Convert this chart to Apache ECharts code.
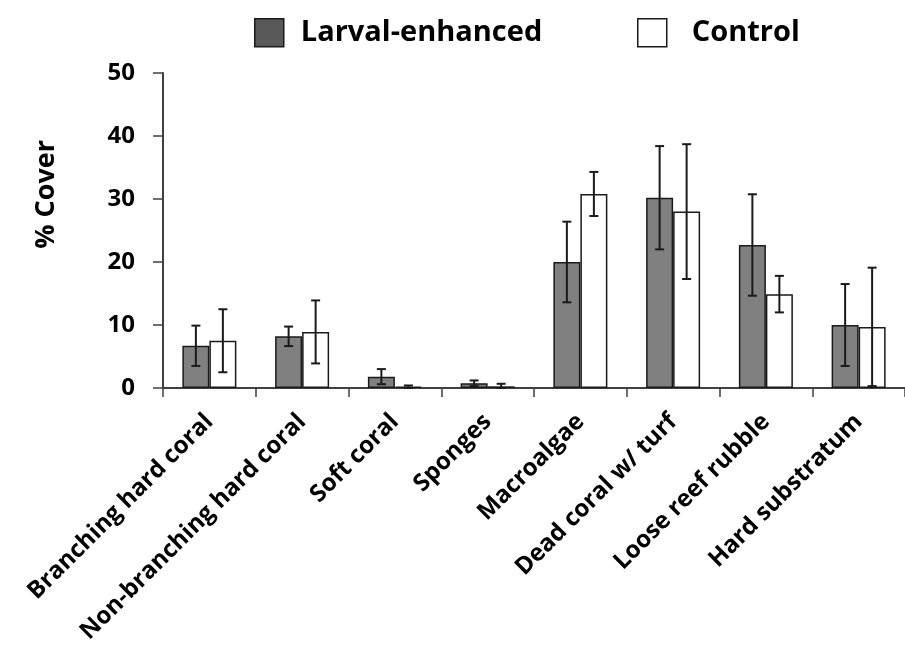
<!DOCTYPE html>
<html>
<head>
<meta charset="utf-8">
<script src="https://cdn.jsdelivr.net/npm/echarts@6/dist/echarts.min.js"></script>
<style>html,body{margin:0;padding:0;background:#fff;}#chart{width:905px;height:650px;}</style>
</head>
<body>
<div id="chart"></div>
<script>
const categories = ['Branching hard coral','Non-branching hard coral','Soft coral','Sponges','Macroalgae','Dead coral w/ turf','Loose reef rubble','Hard substratum'];
const larvalValues = [6.7, 8.2, 1.8, 0.75, 20.0, 30.2, 22.7, 10.0];
const larvalErrors = [3.2, 1.55, 1.2, 0.45, 6.4, 8.2, 8.05, 6.5];
const controlValues = [7.5, 8.9, 0.2, 0.27, 30.8, 28.0, 14.9, 9.7];
const controlErrors = [5.0, 5.0, 0.2, 0.4, 3.5, 10.7, 2.9, 9.4];
const yTicks = [0, 10, 20, 30, 40, 50];

const FONT = '"Open Sans"';
const BAR_W = 27;
const chart = echarts.init(document.getElementById('chart'), null, {renderer: 'canvas'});

function errorSeries(name, values, errors, side) {
  return {
    type: 'custom',
    name: name + ' error',
    z: 10,
    silent: true,
    data: values.map((v, i) => [i, v, errors[i]]),
    renderItem: function (params, api) {
      const i = api.value(0), v = api.value(1), e = api.value(2);
      const c = api.coord([i, v]);
      const x = c[0] + side * BAR_W / 2;
      const top = api.coord([i, v + e])[1];
      const bot = api.coord([i, Math.max(v - e, 0)])[1];
      const cap = 4.5;
      const style = {stroke: '#1a1a1a', lineWidth: 2};
      return {
        type: 'group',
        children: [
          {type: 'line', shape: {x1: x, y1: top, x2: x, y2: bot}, style: style},
          {type: 'line', shape: {x1: x - cap, y1: top, x2: x + cap, y2: top}, style: style},
          {type: 'line', shape: {x1: x - cap, y1: bot, x2: x + cap, y2: bot}, style: style}
        ]
      };
    }
  };
}

function legendAt(left, name, fill, gap) {
  return {
    left: left, top: 13,
    icon: 'rect',
    itemWidth: 29, itemHeight: 28,
    textStyle: {fontFamily: FONT, fontWeight: 'bold', fontSize: 29, color: '#000', padding: [0, 0, 0, gap]},
    data: [{name: name, itemStyle: {color: fill, borderColor: '#1a1a1a', borderWidth: 1.5}}]
  };
}

chart.setOption({
  animation: false,
  backgroundColor: '#fff',
  grid: {left: 163, right: -7, top: 73, bottom: 262, containLabel: false},
  legend: [
    legendAt(249, 'Larval-enhanced', '#595959', 12),
    legendAt(632, 'Control', '#ffffff', 20)
  ],
  graphic: [{
    type: 'text', left: 33, top: 140, rotation: Math.PI / 2,
    style: {text: '% Cover', fontFamily: FONT, fontWeight: 'bold', fontSize: 27, fill: '#000'}
  }],
  xAxis: {
    type: 'category',
    data: categories,
    axisLine: {lineStyle: {color: '#404040', width: 2}},
    axisTick: {show: true, length: 9, alignWithLabel: false, lineStyle: {color: '#404040', width: 1.5}},
    axisLabel: {rotate: 45, interval: 0, margin: 30, fontFamily: FONT, fontWeight: 'bold', fontSize: 24, color: '#000'}
  },
  yAxis: {
    type: 'value', min: 0, max: 50, interval: 10,
    splitLine: {show: false},
    axisLine: {show: true, lineStyle: {color: '#404040', width: 2}},
    axisTick: {show: true, length: 10, lineStyle: {color: '#404040', width: 1.5}},
    axisLabel: {margin: 28, fontFamily: FONT, fontWeight: 'bold', fontSize: 24, color: '#000',
      formatter: v => yTicks.includes(v) ? String(v) : ''}
  },
  series: [
    {name: 'Larval-enhanced', type: 'bar', barWidth: BAR_W, barGap: '0%', data: larvalValues,
     itemStyle: {color: '#808080', borderColor: '#1a1a1a', borderWidth: 1.5}},
    {name: 'Control', type: 'bar', barWidth: BAR_W, barGap: '0%', data: controlValues,
     itemStyle: {color: '#fff', borderColor: '#1a1a1a', borderWidth: 1.5}},
    errorSeries('Larval-enhanced', larvalValues, larvalErrors, -1),
    errorSeries('Control', controlValues, controlErrors, 1)
  ]
});
</script>
</body>
</html>
